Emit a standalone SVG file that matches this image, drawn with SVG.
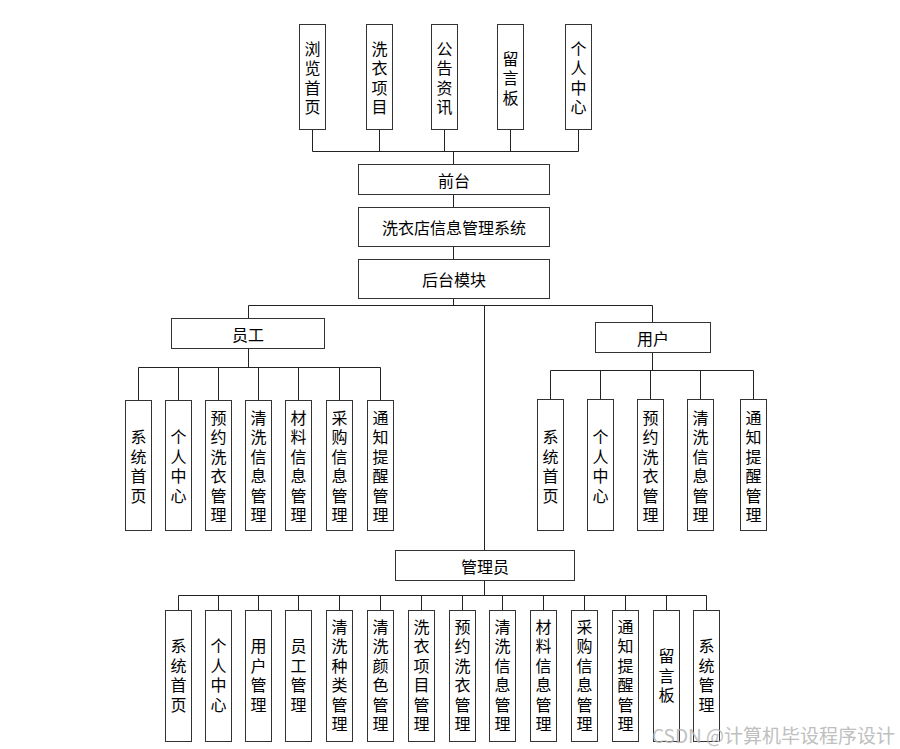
<svg xmlns="http://www.w3.org/2000/svg" width="900" height="749" viewBox="0 0 900 749">
<style>
.bg{fill:#ffffff}
.box{fill:#ffffff;stroke:#333333;stroke-width:1}
.ln{fill:none;stroke:#222222;stroke-width:1}
text{font-family:"Noto Sans CJK SC","Liberation Sans",sans-serif;font-size:16px;fill:#000000;text-anchor:middle;dominant-baseline:central}
.wm{font-size:19px;fill:#b4b4b4;text-anchor:end;opacity:0.85}
</style>
<rect class="bg" x="0" y="0" width="900" height="749"/>
<g id="connectors">
<path class="ln" d="M312.5 129.5V151.5M379.5 129.5V151.5M444.5 129.5V151.5M510.5 129.5V151.5M578.5 129.5V151.5M312.5 151.5H578.5M453.5 151.5V164.5"/>
<path class="ln" d="M453.5 194.5V207.5M453.5 246.5V259.5M453.5 298.5V305.5M248.5 305.5H652.5M484.5 305.5V550.5"/>
<path class="ln" d="M248.5 305.5V318.5M248.5 348.5V367.5M138.5 367.5H380.5M138.5 367.5V400.5M178.5 367.5V400.5M218.5 367.5V400.5M258.5 367.5V400.5M298.5 367.5V400.5M339.5 367.5V400.5M380.5 367.5V400.5"/>
<path class="ln" d="M652.5 305.5V322.5M652.5 352.5V370.5M550.5 370.5H753.5M550.5 370.5V399.5M600.5 370.5V399.5M650.5 370.5V399.5M700.5 370.5V399.5M753.5 370.5V399.5"/>
<path class="ln" d="M484.5 580.5V595.5M178.5 595.5H706.5M178.5 595.5V610.5M218.5 595.5V610.5M258.5 595.5V610.5M298.5 595.5V610.5M339.5 595.5V610.5M380.5 595.5V610.5M421.5 595.5V610.5M462.5 595.5V610.5M502.5 595.5V610.5M543.5 595.5V610.5M584.5 595.5V610.5M625.5 595.5V610.5M666.5 595.5V610.5M706.5 595.5V610.5"/>
</g>
<g id="front-browse"><rect class="box" x="299.5" y="24.5" width="26" height="105"/><text><tspan x="312.5" y="47.75">浏</tspan><tspan x="312.5" y="67.25">览</tspan><tspan x="312.5" y="86.75">首</tspan><tspan x="312.5" y="106.25">页</tspan></text></g>
<g id="front-items"><rect class="box" x="366.5" y="24.5" width="26" height="105"/><text><tspan x="379.5" y="47.75">洗</tspan><tspan x="379.5" y="67.25">衣</tspan><tspan x="379.5" y="86.75">项</tspan><tspan x="379.5" y="106.25">目</tspan></text></g>
<g id="front-news"><rect class="box" x="431.5" y="24.5" width="26" height="105"/><text><tspan x="444.5" y="47.75">公</tspan><tspan x="444.5" y="67.25">告</tspan><tspan x="444.5" y="86.75">资</tspan><tspan x="444.5" y="106.25">讯</tspan></text></g>
<g id="front-board"><rect class="box" x="497.5" y="24.5" width="26" height="105"/><text><tspan x="510.5" y="57.5">留</tspan><tspan x="510.5" y="77">言</tspan><tspan x="510.5" y="96.5">板</tspan></text></g>
<g id="front-center"><rect class="box" x="565.5" y="24.5" width="26" height="105"/><text><tspan x="578.5" y="47.75">个</tspan><tspan x="578.5" y="67.25">人</tspan><tspan x="578.5" y="86.75">中</tspan><tspan x="578.5" y="106.25">心</tspan></text></g>
<g id="frontend"><rect class="box" x="358.5" y="164.5" width="191" height="30"/><text x="454" y="179.5">前台</text></g>
<g id="system"><rect class="box" x="358.5" y="207.5" width="191" height="39"/><text x="454" y="227">洗衣店信息管理系统</text></g>
<g id="backend"><rect class="box" x="358.5" y="259.5" width="191" height="39"/><text x="454" y="279">后台模块</text></g>
<g id="staff"><rect class="box" x="171.5" y="318.5" width="153" height="30"/><text x="248" y="333.5">员工</text></g>
<g id="staff-home"><rect class="box" x="125.5" y="400.5" width="26" height="130"/><text><tspan x="138.5" y="436.25">系</tspan><tspan x="138.5" y="455.75">统</tspan><tspan x="138.5" y="475.25">首</tspan><tspan x="138.5" y="494.75">页</tspan></text></g>
<g id="staff-center"><rect class="box" x="165.5" y="400.5" width="26" height="130"/><text><tspan x="178.5" y="436.25">个</tspan><tspan x="178.5" y="455.75">人</tspan><tspan x="178.5" y="475.25">中</tspan><tspan x="178.5" y="494.75">心</tspan></text></g>
<g id="staff-booking"><rect class="box" x="205.5" y="400.5" width="26" height="130"/><text><tspan x="218.5" y="416.75">预</tspan><tspan x="218.5" y="436.25">约</tspan><tspan x="218.5" y="455.75">洗</tspan><tspan x="218.5" y="475.25">衣</tspan><tspan x="218.5" y="494.75">管</tspan><tspan x="218.5" y="514.25">理</tspan></text></g>
<g id="staff-cleaning"><rect class="box" x="245.5" y="400.5" width="26" height="130"/><text><tspan x="258.5" y="416.75">清</tspan><tspan x="258.5" y="436.25">洗</tspan><tspan x="258.5" y="455.75">信</tspan><tspan x="258.5" y="475.25">息</tspan><tspan x="258.5" y="494.75">管</tspan><tspan x="258.5" y="514.25">理</tspan></text></g>
<g id="staff-material"><rect class="box" x="285.5" y="400.5" width="26" height="130"/><text><tspan x="298.5" y="416.75">材</tspan><tspan x="298.5" y="436.25">料</tspan><tspan x="298.5" y="455.75">信</tspan><tspan x="298.5" y="475.25">息</tspan><tspan x="298.5" y="494.75">管</tspan><tspan x="298.5" y="514.25">理</tspan></text></g>
<g id="staff-purchase"><rect class="box" x="326.5" y="400.5" width="26" height="130"/><text><tspan x="339.5" y="416.75">采</tspan><tspan x="339.5" y="436.25">购</tspan><tspan x="339.5" y="455.75">信</tspan><tspan x="339.5" y="475.25">息</tspan><tspan x="339.5" y="494.75">管</tspan><tspan x="339.5" y="514.25">理</tspan></text></g>
<g id="staff-notice"><rect class="box" x="367.5" y="400.5" width="26" height="130"/><text><tspan x="380.5" y="416.75">通</tspan><tspan x="380.5" y="436.25">知</tspan><tspan x="380.5" y="455.75">提</tspan><tspan x="380.5" y="475.25">醒</tspan><tspan x="380.5" y="494.75">管</tspan><tspan x="380.5" y="514.25">理</tspan></text></g>
<g id="user"><rect class="box" x="595.5" y="322.5" width="115" height="30"/><text x="653" y="337.5">用户</text></g>
<g id="user-home"><rect class="box" x="537.5" y="399.5" width="26" height="131"/><text><tspan x="550.5" y="436.25">系</tspan><tspan x="550.5" y="455.75">统</tspan><tspan x="550.5" y="475.25">首</tspan><tspan x="550.5" y="494.75">页</tspan></text></g>
<g id="user-center"><rect class="box" x="587.5" y="399.5" width="26" height="131"/><text><tspan x="600.5" y="436.25">个</tspan><tspan x="600.5" y="455.75">人</tspan><tspan x="600.5" y="475.25">中</tspan><tspan x="600.5" y="494.75">心</tspan></text></g>
<g id="user-booking"><rect class="box" x="637.5" y="399.5" width="26" height="131"/><text><tspan x="650.5" y="416.75">预</tspan><tspan x="650.5" y="436.25">约</tspan><tspan x="650.5" y="455.75">洗</tspan><tspan x="650.5" y="475.25">衣</tspan><tspan x="650.5" y="494.75">管</tspan><tspan x="650.5" y="514.25">理</tspan></text></g>
<g id="user-cleaning"><rect class="box" x="687.5" y="399.5" width="26" height="131"/><text><tspan x="700.5" y="416.75">清</tspan><tspan x="700.5" y="436.25">洗</tspan><tspan x="700.5" y="455.75">信</tspan><tspan x="700.5" y="475.25">息</tspan><tspan x="700.5" y="494.75">管</tspan><tspan x="700.5" y="514.25">理</tspan></text></g>
<g id="user-notice"><rect class="box" x="740.5" y="399.5" width="26" height="131"/><text><tspan x="753.5" y="416.75">通</tspan><tspan x="753.5" y="436.25">知</tspan><tspan x="753.5" y="455.75">提</tspan><tspan x="753.5" y="475.25">醒</tspan><tspan x="753.5" y="494.75">管</tspan><tspan x="753.5" y="514.25">理</tspan></text></g>
<g id="admin"><rect class="box" x="395.5" y="550.5" width="179" height="30"/><text x="485" y="565.5">管理员</text></g>
<g id="admin-home"><rect class="box" x="165.5" y="610.5" width="26" height="131"/><text><tspan x="178.5" y="645.25">系</tspan><tspan x="178.5" y="664.75">统</tspan><tspan x="178.5" y="684.25">首</tspan><tspan x="178.5" y="703.75">页</tspan></text></g>
<g id="admin-center"><rect class="box" x="205.5" y="610.5" width="26" height="131"/><text><tspan x="218.5" y="645.25">个</tspan><tspan x="218.5" y="664.75">人</tspan><tspan x="218.5" y="684.25">中</tspan><tspan x="218.5" y="703.75">心</tspan></text></g>
<g id="admin-users"><rect class="box" x="245.5" y="610.5" width="26" height="131"/><text><tspan x="258.5" y="645.25">用</tspan><tspan x="258.5" y="664.75">户</tspan><tspan x="258.5" y="684.25">管</tspan><tspan x="258.5" y="703.75">理</tspan></text></g>
<g id="admin-staff"><rect class="box" x="285.5" y="610.5" width="26" height="131"/><text><tspan x="298.5" y="645.25">员</tspan><tspan x="298.5" y="664.75">工</tspan><tspan x="298.5" y="684.25">管</tspan><tspan x="298.5" y="703.75">理</tspan></text></g>
<g id="admin-kind"><rect class="box" x="326.5" y="610.5" width="26" height="131"/><text><tspan x="339.5" y="625.75">清</tspan><tspan x="339.5" y="645.25">洗</tspan><tspan x="339.5" y="664.75">种</tspan><tspan x="339.5" y="684.25">类</tspan><tspan x="339.5" y="703.75">管</tspan><tspan x="339.5" y="723.25">理</tspan></text></g>
<g id="admin-color"><rect class="box" x="367.5" y="610.5" width="26" height="131"/><text><tspan x="380.5" y="625.75">清</tspan><tspan x="380.5" y="645.25">洗</tspan><tspan x="380.5" y="664.75">颜</tspan><tspan x="380.5" y="684.25">色</tspan><tspan x="380.5" y="703.75">管</tspan><tspan x="380.5" y="723.25">理</tspan></text></g>
<g id="admin-items"><rect class="box" x="408.5" y="610.5" width="26" height="131"/><text><tspan x="421.5" y="625.75">洗</tspan><tspan x="421.5" y="645.25">衣</tspan><tspan x="421.5" y="664.75">项</tspan><tspan x="421.5" y="684.25">目</tspan><tspan x="421.5" y="703.75">管</tspan><tspan x="421.5" y="723.25">理</tspan></text></g>
<g id="admin-booking"><rect class="box" x="449.5" y="610.5" width="26" height="131"/><text><tspan x="462.5" y="625.75">预</tspan><tspan x="462.5" y="645.25">约</tspan><tspan x="462.5" y="664.75">洗</tspan><tspan x="462.5" y="684.25">衣</tspan><tspan x="462.5" y="703.75">管</tspan><tspan x="462.5" y="723.25">理</tspan></text></g>
<g id="admin-cleaning"><rect class="box" x="489.5" y="610.5" width="26" height="131"/><text><tspan x="502.5" y="625.75">清</tspan><tspan x="502.5" y="645.25">洗</tspan><tspan x="502.5" y="664.75">信</tspan><tspan x="502.5" y="684.25">息</tspan><tspan x="502.5" y="703.75">管</tspan><tspan x="502.5" y="723.25">理</tspan></text></g>
<g id="admin-material"><rect class="box" x="530.5" y="610.5" width="26" height="131"/><text><tspan x="543.5" y="625.75">材</tspan><tspan x="543.5" y="645.25">料</tspan><tspan x="543.5" y="664.75">信</tspan><tspan x="543.5" y="684.25">息</tspan><tspan x="543.5" y="703.75">管</tspan><tspan x="543.5" y="723.25">理</tspan></text></g>
<g id="admin-purchase"><rect class="box" x="571.5" y="610.5" width="26" height="131"/><text><tspan x="584.5" y="625.75">采</tspan><tspan x="584.5" y="645.25">购</tspan><tspan x="584.5" y="664.75">信</tspan><tspan x="584.5" y="684.25">息</tspan><tspan x="584.5" y="703.75">管</tspan><tspan x="584.5" y="723.25">理</tspan></text></g>
<g id="admin-notice"><rect class="box" x="612.5" y="610.5" width="26" height="131"/><text><tspan x="625.5" y="625.75">通</tspan><tspan x="625.5" y="645.25">知</tspan><tspan x="625.5" y="664.75">提</tspan><tspan x="625.5" y="684.25">醒</tspan><tspan x="625.5" y="703.75">管</tspan><tspan x="625.5" y="723.25">理</tspan></text></g>
<g id="admin-board"><rect class="box" x="653.5" y="610.5" width="26" height="131"/><text><tspan x="666.5" y="655">留</tspan><tspan x="666.5" y="674.5">言</tspan><tspan x="666.5" y="694">板</tspan></text></g>
<g id="admin-system"><rect class="box" x="693.5" y="610.5" width="26" height="131"/><text><tspan x="706.5" y="645.25">系</tspan><tspan x="706.5" y="664.75">统</tspan><tspan x="706.5" y="684.25">管</tspan><tspan x="706.5" y="703.75">理</tspan></text></g>
<text class="wm" x="895" y="734">CSDN @计算机毕设程序设计</text>
</svg>
